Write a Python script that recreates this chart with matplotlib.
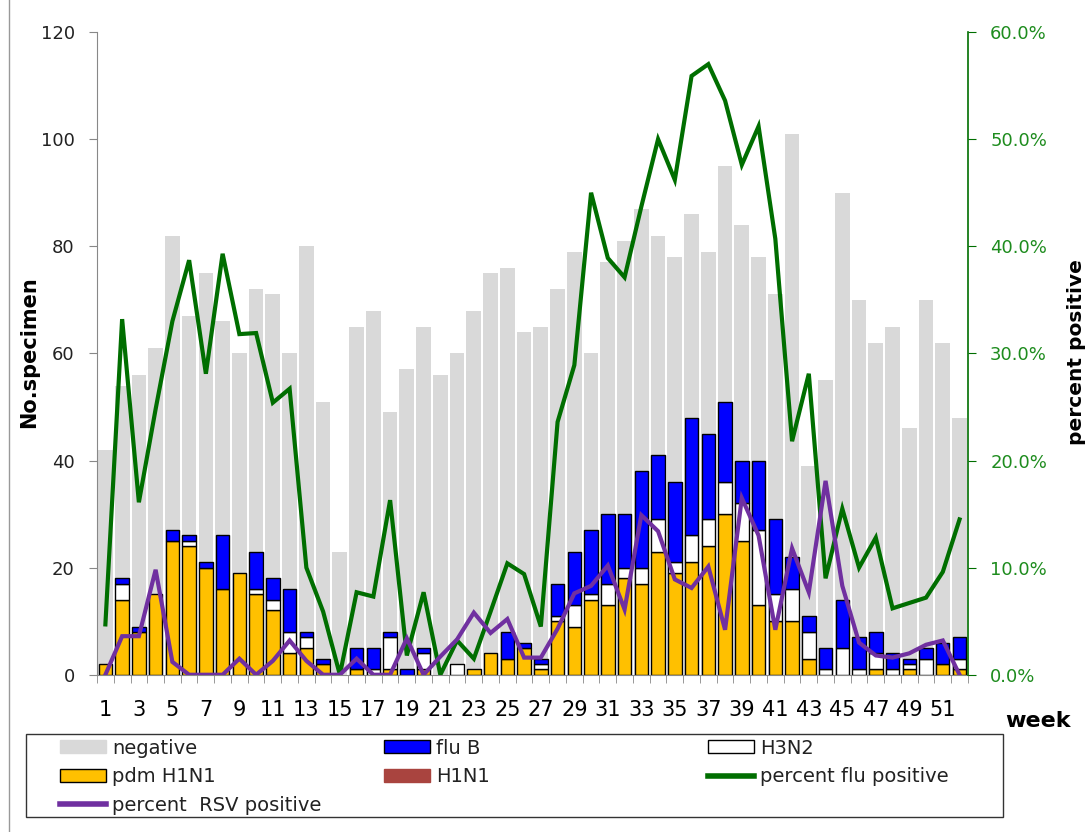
import numpy as np
import matplotlib
matplotlib.use('Agg')
import matplotlib.pyplot as plt
from matplotlib.ticker import FuncFormatter, MultipleLocator
from matplotlib.patches import Patch, Rectangle
from matplotlib.lines import Line2D

weeks = np.arange(1, 53)
tick_weeks = np.arange(1, 52, 2)

# 阴性标本数
negative = [42, 54, 56, 61, 82, 67, 75, 66, 60, 72, 71, 60, 80, 51, 23, 65, 68, 49, 57, 65,
            56, 60, 68, 75, 76, 64, 65, 72, 79, 60, 77, 81, 87, 82, 78, 86, 79, 95, 84, 78,
            71, 101, 39, 55, 90, 70, 62, 65, 46, 70, 62, 48]
pdm_h1n1 = [2, 14, 8, 15, 25, 24, 20, 16, 19, 15, 12, 4, 5, 2, 0, 1, 0, 1, 0, 1,
            0, 0, 1, 4, 3, 5, 1, 10, 9, 14, 13, 18, 17, 23, 19, 21, 24, 30, 25, 13,
            10, 10, 3, 0, 0, 0, 1, 0, 1, 0, 2, 1]
h1n1 = [0] * 52
h3n2 = [0, 3, 0, 0, 0, 1, 0, 0, 0, 1, 2, 4, 2, 0, 0, 0, 1, 6, 0, 3,
        0, 2, 0, 0, 0, 0, 1, 1, 4, 1, 4, 2, 3, 6, 2, 5, 5, 6, 7, 14,
        5, 6, 5, 1, 5, 1, 3, 1, 1, 3, 0, 2]
flu_b = [0, 1, 1, 0, 2, 1, 1, 10, 0, 7, 4, 8, 1, 1, 0, 4, 4, 1, 1, 1,
         0, 0, 0, 0, 5, 1, 1, 6, 10, 12, 13, 10, 18, 12, 15, 22, 16, 15, 8, 13,
         14, 6, 3, 4, 9, 6, 4, 3, 1, 2, 4, 4]
# 流感阳性率 / RSV阳性率 (%)
flu_pct = [4.7, 33.2, 16.1, 24.8, 33.0, 38.7, 28.1, 39.3, 31.8, 31.9, 25.4, 26.7, 10.0, 5.9, 0.0,
           7.7, 7.3, 16.3, 1.8, 7.7, 0.0, 3.2, 1.5, 5.9, 10.4, 9.4, 4.5, 23.6, 28.9, 45.0,
           38.9, 37.1, 43.7, 50.0, 46.2, 55.9, 57.0, 53.6, 47.6, 51.2, 40.7, 21.8, 28.1, 9.0,
           15.5, 10.0, 12.8, 6.2, 6.7, 7.2, 9.6, 14.5]
rsv_pct = [0.0, 3.6, 3.6, 9.8, 1.2, 0.0, 0.0, 0.0, 1.5, 0.0, 1.3, 3.2, 1.3, 0.0, 0.0,
           1.5, 0.0, 0.0, 3.4, 0.0, 1.7, 3.3, 5.8, 3.9, 5.2, 1.6, 1.6, 4.3, 7.6, 8.3,
           10.2, 6.1, 14.9, 13.4, 8.9, 8.1, 10.1, 4.2, 16.5, 13.0, 4.2, 11.8, 7.7, 18.1,
           8.3, 3.0, 1.8, 1.6, 2.0, 2.8, 3.2, 0.0]

grey = '#D9D9D9'
yellow = '#FFC000'
blue = '#0000FF'
brown = '#A9443F'
green = '#006E00'
purple = '#7030A0'


def masked(v):
    v = np.array(v, dtype=float)
    return np.where(v > 0, v, np.nan)


fig = plt.figure(figsize=(10.9, 8.32), dpi=100)
ax = fig.add_axes([0.089, 0.189, 0.799, 0.7725])
ax2 = ax.twinx()

ax.bar(weeks, negative, width=0.88, color=grey, zorder=1)

pdm = np.array(pdm_h1n1, dtype=float)
b1 = pdm + np.array(h1n1)
b2 = b1 + np.array(h3n2)
ax.bar(weeks, masked(pdm_h1n1), width=0.8, color=yellow, edgecolor='black', linewidth=1, zorder=2)
ax.bar(weeks, masked(h1n1), bottom=pdm, width=0.8, color=brown, edgecolor='black', linewidth=1, zorder=2)
ax.bar(weeks, masked(h3n2), bottom=b1, width=0.8, color='white', edgecolor='black', linewidth=1, zorder=2)
ax.bar(weeks, masked(flu_b), bottom=b2, width=0.8, color=blue, edgecolor='black', linewidth=1, zorder=2)

ax2.plot(weeks, flu_pct, color=green, lw=3.0, solid_joinstyle='miter')
ax2.plot(weeks, rsv_pct, color=purple, lw=3.0, solid_joinstyle='miter')

ax.set_xlim(0.58, 52.38)
ax.set_ylim(0, 120)
ax2.set_ylim(0, 60)

ax.yaxis.set_major_locator(MultipleLocator(20))
ax2.yaxis.set_major_locator(MultipleLocator(10))
ax2.yaxis.set_major_formatter(FuncFormatter(lambda v, p: '%.1f%%' % v))

ax.set_xticks(tick_weeks)
ax.set_xticklabels([str(w) for w in tick_weeks], fontsize=15)
ax.set_xticks(np.arange(0.5, 53, 1), minor=True)
ax.tick_params(axis='x', which='major', length=0, pad=18)
ax.tick_params(axis='x', which='minor', length=6, color='#888888', direction='out')
ax.tick_params(axis='y', length=6, color='#888888', labelsize=13, labelcolor='#222222', pad=10)
ax2.tick_params(axis='y', length=6, color=green, labelsize=13, labelcolor='#1E8C1E', pad=10)

for a in (ax, ax2):
    a.spines['top'].set_visible(False)
ax.spines['right'].set_visible(False)
ax.spines['left'].set_color('#888888')
ax.spines['bottom'].set_color('#888888')
ax2.spines['left'].set_visible(False)
ax2.spines['bottom'].set_visible(False)
ax2.spines['right'].set_color(green)
ax2.spines['right'].set_linewidth(1.2)

fig.text(0.027, 0.577, 'No.specimen', rotation=90, fontsize=15, fontweight='bold', ha='center', va='center')
fig.text(0.988, 0.577, 'percent positive', rotation=90, fontsize=14.5, fontweight='bold', ha='center', va='center')
fig.text(0.952, 0.134, 'week', fontsize=16, fontweight='bold', ha='center', va='center')

# 图例
h_neg = Patch(facecolor=grey, edgecolor=grey)
h_b = Patch(facecolor=blue, edgecolor='black')
h_h3 = Patch(facecolor='white', edgecolor='black')
h_pdm = Patch(facecolor=yellow, edgecolor='black')
h_h1 = Patch(facecolor=brown, edgecolor=brown)
h_flu = Line2D([], [], color=green, lw=4)
h_rsv = Line2D([], [], color=purple, lw=4)
cols = [([h_neg, h_pdm, h_rsv], ['negative', 'pdm H1N1', 'percent  RSV positive'], 0.0479),
        ([h_b, h_h1], ['flu B', 'H1N1'], 0.3451),
        ([h_h3, h_flu], ['H3N2', 'percent flu positive'], 0.6424)]
for hs, ls, x0 in cols:
    lg = fig.legend(hs, ls, loc='upper left', bbox_to_anchor=(x0, 0.1216), frameon=False,
                    fontsize=14, handlelength=2.37, handleheight=0.65, handletextpad=0.3,
                    labelspacing=0.5, borderaxespad=0)
    for t in lg.get_texts():
        t.set_color('#222222')
fig.patches.append(Rectangle((0.0239, 0.018), 0.896, 0.0998, transform=fig.transFigure,
                             fill=False, edgecolor='#333333', linewidth=1))
fig.add_artist(Line2D([0.0085, 0.0085], [0.0, 1.0], transform=fig.transFigure, color='#999999', lw=1))

fig.savefig('out.png', dpi=100)
